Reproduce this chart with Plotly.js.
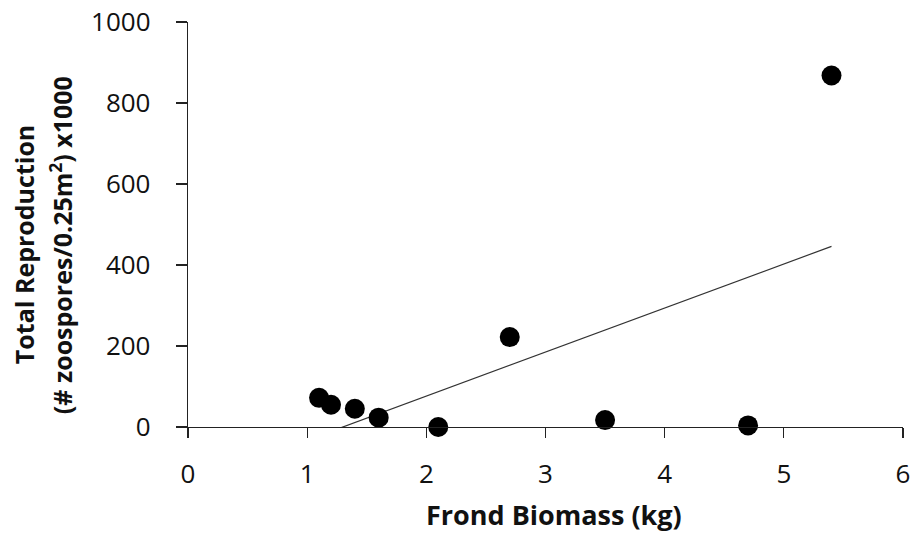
<!DOCTYPE html>
<html>
<head>
<meta charset="utf-8">
<script src="https://cdn.plot.ly/plotly-3.0.1.min.js"></script>
<style>html,body{margin:0;padding:0;background:#fff;}#chart{width:916px;height:533px;}</style>
</head>
<body>
<div id="chart"></div>
<script>
// Data
const biomass = [1.1, 1.2, 1.4, 1.6, 2.1, 2.7, 3.5, 4.7, 5.4];
const reproduction = [72, 55, 45, 23, 0, 222, 17, 4, 868];
const xTicks = [0, 1, 2, 3, 4, 5, 6];
const yTicks = [0, 200, 400, 600, 800, 1000];
const xTitle = 'Frond Biomass (kg)';
const yTitleLines = ['Total Reproduction', '(# zoospores/0.25m<sup>2</sup>) x1000'];

// Linear trendline (least squares) from the data
const n = biomass.length;
const mx = biomass.reduce((a, b) => a + b, 0) / n;
const my = reproduction.reduce((a, b) => a + b, 0) / n;
let sxy = 0, sxx = 0;
for (let i = 0; i < n; i++) { sxy += (biomass[i] - mx) * (reproduction[i] - my); sxx += (biomass[i] - mx) ** 2; }
const slope = sxy / sxx, intercept = my - slope * mx;
const trendX = [Math.min(...biomass), Math.max(...biomass)];
const trendY = trendX.map(x => intercept + slope * x);

const font = "'Open Sans', sans-serif";
const ink = '#111';

const traces = [
  { x: trendX, y: trendY, mode: 'lines', type: 'scatter', line: { color: '#333', width: 1.2 }, hoverinfo: 'skip' },
  { x: biomass, y: reproduction, mode: 'markers', type: 'scatter', cliponaxis: false,
    marker: { color: '#000', size: 20 } }
];

const layout = {
  width: 916, height: 533,
  margin: { l: 188, r: 13, t: 22, b: 106 },
  paper_bgcolor: '#fff', plot_bgcolor: '#fff',
  showlegend: false,
  font: { family: font, color: ink },
  xaxis: {
    range: [0, 6], tickvals: xTicks, ticktext: xTicks.map(String),
    showgrid: false, zeroline: false, showline: true, linecolor: '#222', linewidth: 1.3,
    ticks: 'outside', ticklen: 10, tickcolor: '#222', tickwidth: 1.3,
    ticklabelstandoff: 13,
    tickfont: { size: 26, family: font, color: ink }
  },
  yaxis: {
    range: [0, 1000], tickvals: yTicks, ticktext: yTicks.map(String),
    showgrid: false, zeroline: false, showline: true, linecolor: '#222', linewidth: 1.3,
    ticks: 'outside', ticklen: 11, tickcolor: '#222', tickwidth: 1.3,
    ticklabelstandoff: 20,
    tickfont: { size: 26, family: font, color: ink }
  },
  annotations: [
    { text: '<b>' + xTitle + '</b>', xref: 'paper', yref: 'paper', x: 0.512, y: -0.215,
      xanchor: 'center', yanchor: 'middle', showarrow: false, font: { size: 27, family: font, color: ink } },
    { text: '<b>' + yTitleLines[0] + '</b>', xref: 'paper', yref: 'paper', x: (24 - 188) / 715, y: 0.449,
      xanchor: 'center', yanchor: 'middle', textangle: -90, showarrow: false, font: { size: 25, family: font, color: ink } },
    { text: '<b>' + yTitleLines[1] + '</b>', xref: 'paper', yref: 'paper', x: (61 - 188) / 715, y: 0.449,
      xanchor: 'center', yanchor: 'middle', textangle: -90, showarrow: false, font: { size: 25, family: font, color: ink } }
  ]
};

Plotly.newPlot('chart', traces, layout, { staticPlot: true, displayModeBar: false });
</script>
</body>
</html>
